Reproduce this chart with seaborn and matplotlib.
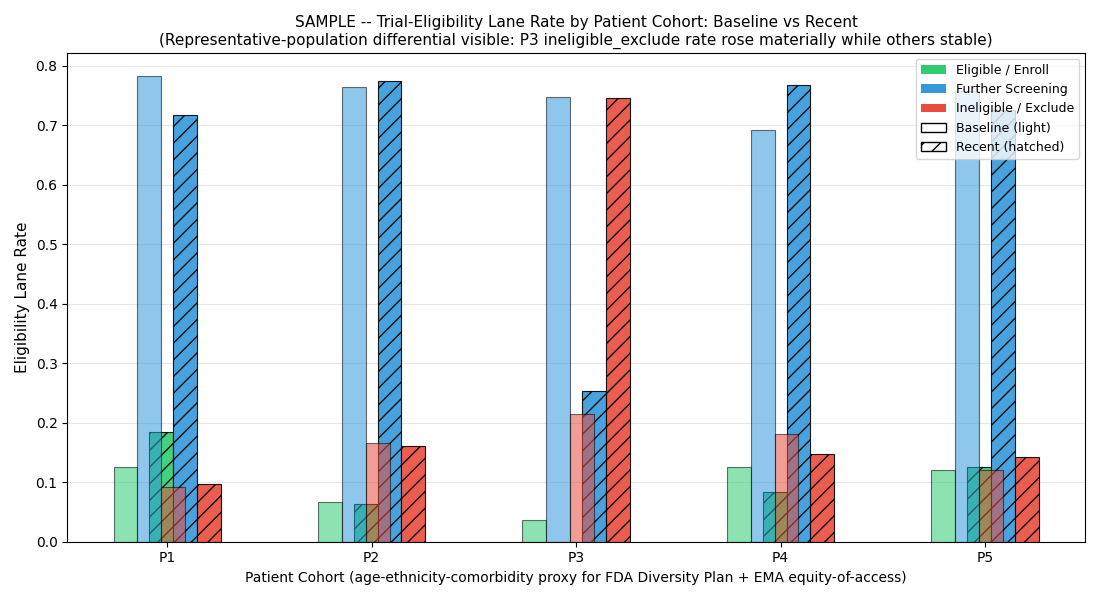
import matplotlib
matplotlib.use("Agg")
import matplotlib.pyplot as plt
from matplotlib.patches import Patch
import numpy as np
import seaborn as sns

# ---- data ------------------------------------------------------------------
cohorts = ["P1", "P2", "P3", "P4", "P5"]
lanes = ["Eligible / Enroll", "Further Screening", "Ineligible / Exclude"]

baseline_eligible = [0.126, 0.067, 0.037, 0.126, 0.120]
baseline_further = [0.783, 0.765, 0.748, 0.692, 0.757]
baseline_ineligible = [0.092, 0.166, 0.215, 0.181, 0.120]

recent_eligible = [0.185, 0.064, 0.000, 0.084, 0.126]
recent_further = [0.718, 0.775, 0.254, 0.768, 0.726]
recent_ineligible = [0.097, 0.161, 0.746, 0.148, 0.142]

lane_colors = ["#2ecc71", "#3498db", "#e74c3c"]

baseline = [baseline_eligible, baseline_further, baseline_ineligible]
recent = [recent_eligible, recent_further, recent_ineligible]

W = 0.35 / 3
x = np.arange(len(cohorts))

fig, ax = plt.subplots(figsize=(11, 6), dpi=100)

# recent bars first (hatched), baseline light bars drawn on top
for i, (vals, col) in enumerate(zip(recent, lane_colors)):
    sns.barplot(x=x + (i - 1) * W + 0.75 * W, y=vals, native_scale=True,
                width=W, color=col, saturation=1, alpha=0.9, hatch="//",
                edgecolor="black", linewidth=0.8, errorbar=None, ax=ax)
for i, (vals, col) in enumerate(zip(baseline, lane_colors)):
    sns.barplot(x=x + (i - 1) * W - 0.75 * W, y=vals, native_scale=True,
                width=W, color=col, saturation=1, alpha=0.55,
                edgecolor="black", linewidth=0.8, errorbar=None, ax=ax)

ax.set_xticks(x)
ax.set_xticklabels(cohorts)
# matplotlib-style 5% margins around the outermost bar edges
lo, hi = x[0] - 2.25 * W, x[-1] + 2.25 * W
pad = 0.05 * (hi - lo)
ax.set_xlim(lo - pad, hi + pad)
ymax = max(max(v) for v in baseline + recent)
ax.set_ylim(0, ymax * 1.05)
ax.yaxis.grid(True, alpha=0.3)
ax.set_axisbelow(True)

ax.set_xlabel("Patient Cohort (age-ethnicity-comorbidity proxy for FDA Diversity Plan + EMA equity-of-access)")
ax.set_ylabel("Eligibility Lane Rate", fontsize=11)
ax.set_title("SAMPLE -- Trial-Eligibility Lane Rate by Patient Cohort: Baseline vs Recent\n"
             "(Representative-population differential visible: P3 ineligible_exclude rate rose materially while others stable)",
             fontsize=11)

handles = [Patch(facecolor=c, label=l) for c, l in zip(lane_colors, lanes)]
handles.append(Patch(facecolor="white", edgecolor="black", label="Baseline (light)"))
handles.append(Patch(facecolor="white", edgecolor="black", hatch="//", label="Recent (hatched)"))
ax.legend(handles=handles, loc="upper right", fontsize=9)

fig.tight_layout()
fig.savefig("out.png", dpi=100)
